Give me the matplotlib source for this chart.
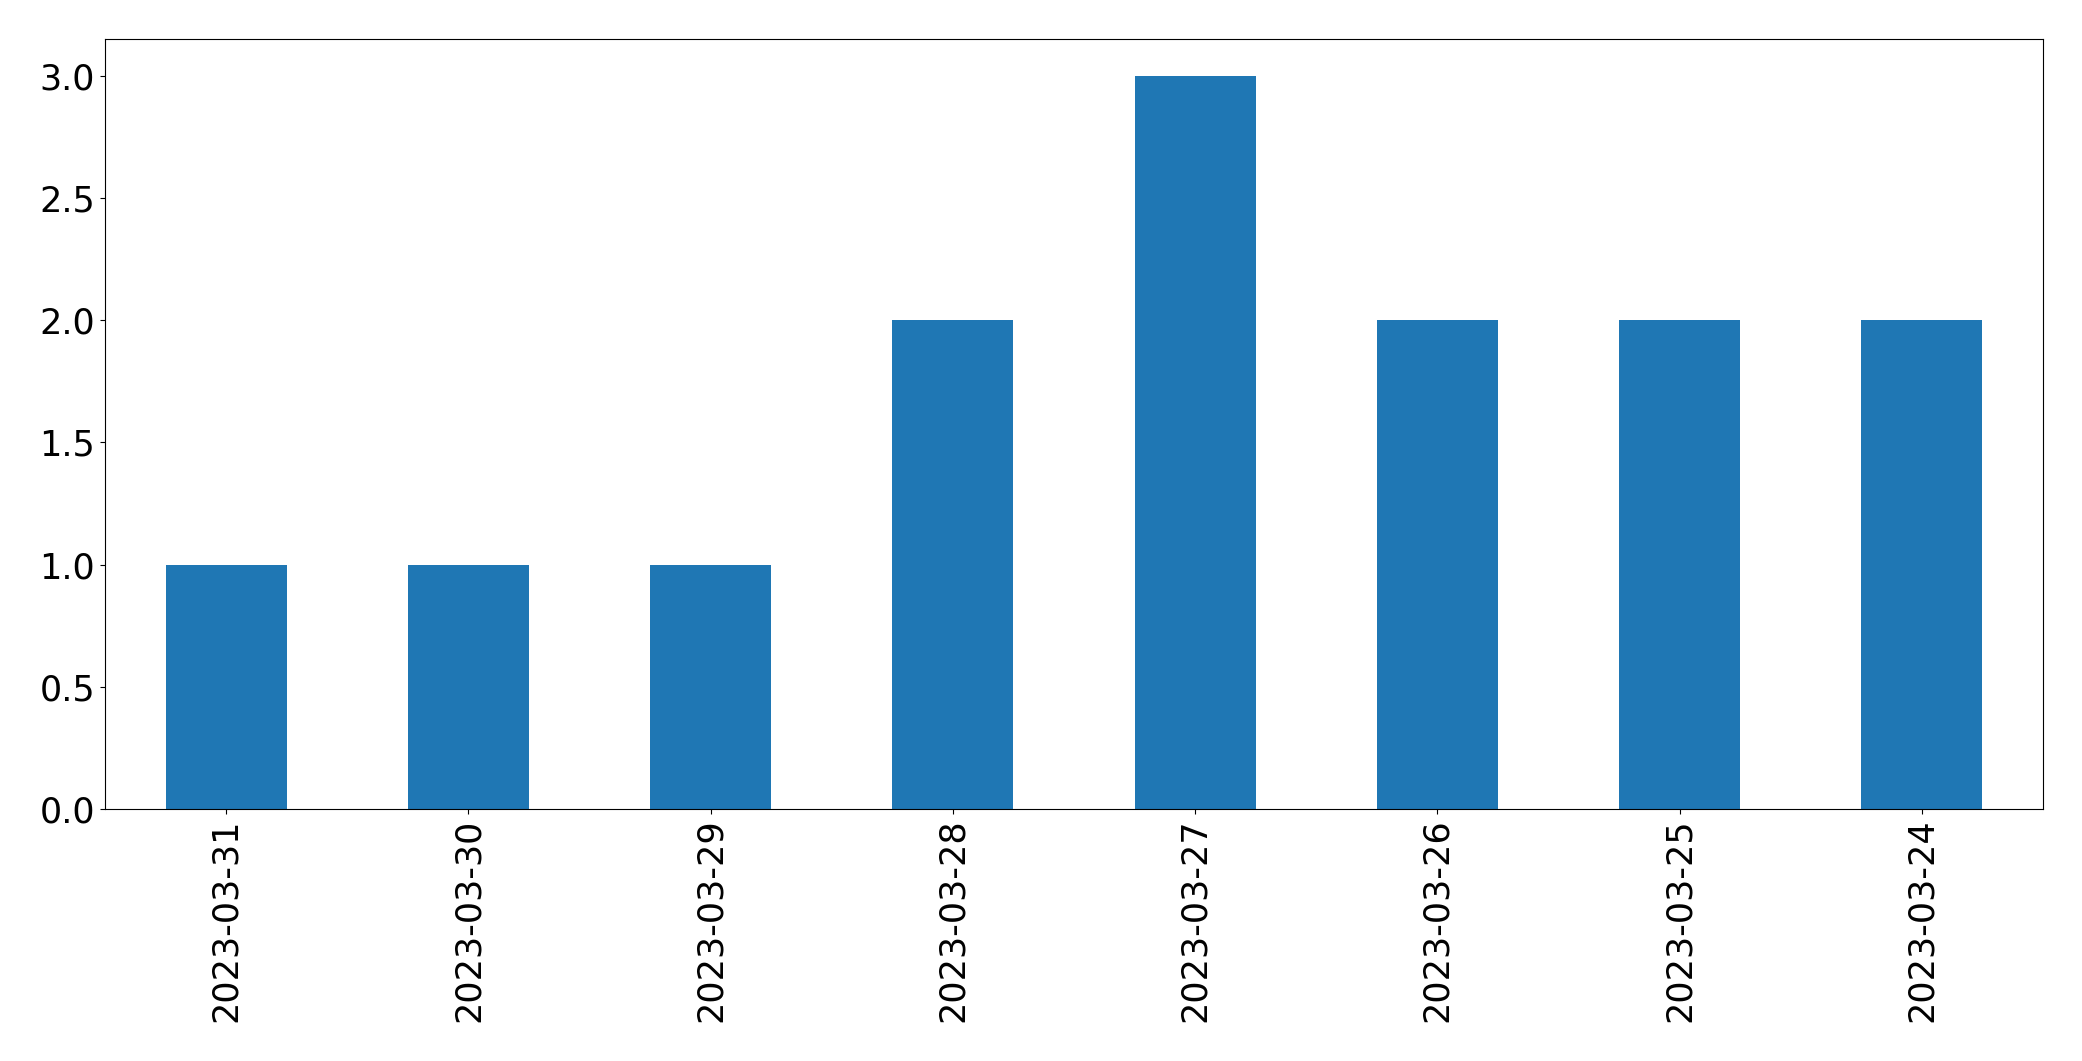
import matplotlib
matplotlib.use("Agg")
import matplotlib.pyplot as plt
import pandas as pd

# --- dados ---
dates = ["2023-03-31", "2023-03-30", "2023-03-29", "2023-03-28",
         "2023-03-27", "2023-03-26", "2023-03-25", "2023-03-24"]
counts = [1, 1, 1, 2, 3, 2, 2, 2]

serie = pd.Series(counts, index=dates)

fig = plt.figure(figsize=(20.82, 10.61), dpi=100)
ax = fig.add_axes([105 / 2082, 1 - 809 / 1061, (2043 - 105) / 2082, (809 - 39) / 1061])

serie.plot(kind="bar", ax=ax, color="#1f77b4")

ax.tick_params(axis="both", labelsize=25.2)
ax.set_xlabel("")

fig.savefig("out.png", dpi=100)
